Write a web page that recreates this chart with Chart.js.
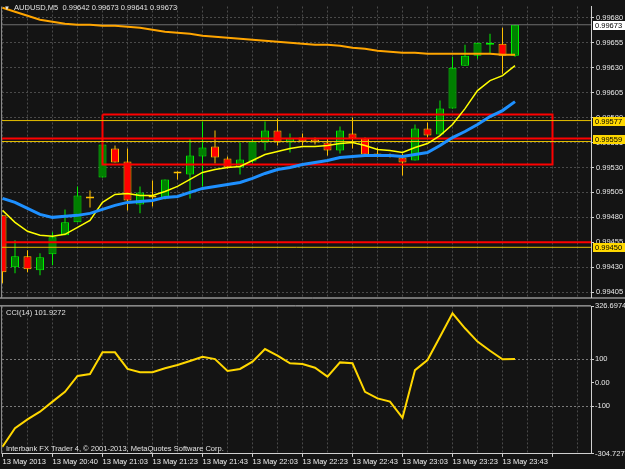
<!DOCTYPE html>
<html>
<head>
<meta charset="utf-8">
<script src="https://cdn.jsdelivr.net/npm/chart.js@4.4.0/dist/chart.umd.min.js"></script>
<style>
    html, body { margin: 0; padding: 0; background: #141414; }
    #wrap { position: relative; width: 625px; height: 469px; overflow: hidden; background: #141414;
            font-family: 'Liberation Sans', Arial, sans-serif; }
    #wrap canvas { position: absolute; left: 0; }
    .txt { position: absolute; color: #e2e2e2; font-size: 7.5px; line-height: 9px; white-space: nowrap; z-index: 5; }
</style>
</head>
<body>
<div id="wrap">
    <canvas id="priceChart" width="625" height="304" style="top:0"></canvas>
    <canvas id="cciChart" width="625" height="177" style="top:292px"></canvas>
    <div class="txt" style="left:4px;top:3px"><span style="font-size:6px">&#9660;</span>&nbsp;&nbsp;AUDUSD,M5&nbsp;&nbsp;0.99642 0.99673 0.99641 0.99673</div>
    <div class="txt" style="left:6px;top:308px">CCI(14) 101.9272</div>
    <div class="txt" style="left:6px;top:444px">Interbank FX Trader 4, © 2001-2013, MetaQuotes Software Corp.</div>
</div>

<script>
// ──────────────────────────────────────
// Data (AUDUSD M5, 13 May 2013)
// ──────────────────────────────────────

const timeLabels = ['13 May 2013', '13 May 20:40', '13 May 21:03', '13 May 21:23', '13 May 21:43',
    '13 May 22:03', '13 May 22:23', '13 May 22:43', '13 May 23:03', '13 May 23:23', '13 May 23:43'];

const priceTicks = [0.99680, 0.99655, 0.99630, 0.99605, 0.99580, 0.99555,
    0.99530, 0.99505, 0.99480, 0.99455, 0.99430, 0.99405];

const opens = [0.99482, 0.99430, 0.99441, 0.99427, 0.99443, 0.99462, 0.99475, 0.99501, 0.99520, 0.99549,
    0.99536, 0.99493, 0.99502, 0.99499, 0.99525, 0.99523, 0.99541, 0.99551, 0.99539, 0.99530,
    0.99536, 0.99555, 0.99567, 0.99555, 0.99560, 0.99558, 0.99555, 0.99547, 0.99564, 0.99559,
    0.99543, 0.99542, 0.99540, 0.99537, 0.99569, 0.99563, 0.99589, 0.99632, 0.99642, 0.99653,
    0.99654, 0.99642];
const highs = [0.99482, 0.99457, 0.99447, 0.99444, 0.99465, 0.99488, 0.99511, 0.99507, 0.99553, 0.99552,
    0.99549, 0.99511, 0.99517, 0.99518, 0.99526, 0.99559, 0.99576, 0.99567, 0.99541, 0.99555,
    0.99559, 0.99576, 0.99579, 0.99564, 0.99564, 0.99560, 0.99559, 0.99571, 0.99580, 0.99560,
    0.99550, 0.99544, 0.99544, 0.99573, 0.99575, 0.99597, 0.99641, 0.99653, 0.99655, 0.99664,
    0.99670, 0.99673];
const lows = [0.99414, 0.99424, 0.99425, 0.99422, 0.99432, 0.99462, 0.99475, 0.99490, 0.99520, 0.99535,
    0.99487, 0.99484, 0.99491, 0.99498, 0.99518, 0.99499, 0.99511, 0.99534, 0.99529, 0.99523,
    0.99534, 0.99547, 0.99552, 0.99545, 0.99552, 0.99553, 0.99542, 0.99544, 0.99549, 0.99542,
    0.99540, 0.99540, 0.99522, 0.99537, 0.99560, 0.99562, 0.99589, 0.99632, 0.99639, 0.99644,
    0.99624, 0.99641];
const closes = [0.99425, 0.99441, 0.99428, 0.99440, 0.99460, 0.99475, 0.99502, 0.99499, 0.99553, 0.99535,
    0.99497, 0.99505, 0.99500, 0.99518, 0.99524, 0.99542, 0.99550, 0.99540, 0.99530, 0.99538,
    0.99556, 0.99567, 0.99555, 0.99559, 0.99556, 0.99555, 0.99547, 0.99567, 0.99559, 0.99543,
    0.99542, 0.99541, 0.99535, 0.99569, 0.99562, 0.99589, 0.99630, 0.99642, 0.99655, 0.99655,
    0.99642, 0.99673];

// moving averages
const maSlow = [0.99690, 0.99686, 0.99682, 0.99678, 0.99676, 0.99674, 0.99673, 0.99673, 0.99672, 0.99672,
    0.99671, 0.99670, 0.99668, 0.99666, 0.99665, 0.99664, 0.99662, 0.99661, 0.99660, 0.99659,
    0.99658, 0.99657, 0.99656, 0.99655, 0.99654, 0.99653, 0.99653, 0.99652, 0.99650, 0.99649,
    0.99647, 0.99646, 0.99645, 0.99645, 0.99644, 0.99644, 0.99644, 0.99644, 0.99644, 0.99644,
    0.99643, 0.99643];
const maFast = [0.99487, 0.99475, 0.99466, 0.99462, 0.99461, 0.99463, 0.99470, 0.99477, 0.99495, 0.99503,
    0.99504, 0.99502, 0.99502, 0.99506, 0.99511, 0.99518, 0.99525, 0.99528, 0.99530, 0.99531,
    0.99537, 0.99543, 0.99546, 0.99549, 0.99551, 0.99551, 0.99552, 0.99554, 0.99555, 0.99552,
    0.99548, 0.99547, 0.99545, 0.99550, 0.99554, 0.99562, 0.99573, 0.99589, 0.99607, 0.99617,
    0.99622, 0.99632];
const maMid = [0.99499, 0.99495, 0.99489, 0.99483, 0.99480, 0.99481, 0.99482, 0.99484, 0.99488, 0.99492,
    0.99495, 0.99496, 0.99497, 0.99500, 0.99501, 0.99505, 0.99509, 0.99511, 0.99513, 0.99515,
    0.99519, 0.99524, 0.99528, 0.99530, 0.99533, 0.99535, 0.99537, 0.99540, 0.99541, 0.99542,
    0.99542, 0.99542, 0.99541, 0.99543, 0.99545, 0.99552, 0.99560, 0.99566, 0.99573, 0.99581,
    0.99587, 0.99596];

const cciValues = [-274, -195, -157, -124, -81, -39, 29, 37, 130, 130,
    59, 45, 45, 62, 76, 93, 111, 101, 50, 59,
    90, 144, 116, 83, 80, 64, 26, 87, 83, -39,
    -67, -81, -150, 54, 97, 197, 297, 233, 176, 137,
    100, 101.9272];
const cciTicks = [326.6974, 100, 0, -100, -304.7275];
const cciTickLabels = ['326.6974', '100', '0.00', '-100', '-304.7275'];

// chart objects
const redLevels = [0.99559, 0.99455];
const goldLevels = [0.99577, 0.99556, 0.99450];
const bidPrice = 0.99673;
const boxBars = [8, 44];
const boxPrices = [0.99583, 0.99533];
const tagPrices = [0.99673, 0.99577, 0.99559, 0.99450];

// ──────────────────────────────────────
// Look
// ──────────────────────────────────────

const X_MIN = -0.04, X_MAX = 47.08;
const GRID = '#4a4a4a';
const AXIS = '#d0d0d0';
const UP_FILL = '#008000', UP_EDGE = '#00f000';
const DN_FILL = '#ff0000', DN_EDGE = '#ffc000';
const FONT = { family: "'Liberation Sans', Arial, sans-serif", size: 7.5 };

Chart.defaults.font = FONT;
Chart.defaults.color = '#e8e8e8';

const idx = opens.map((_, i) => i);
const isUp = idx.map(i => closes[i] >= opens[i]);
const gridSteps = Array.from({ length: 24 }, (_, k) => k * 2);

function levelLine(price, color, width) {
    return {
        type: 'line', data: [{ x: X_MIN, y: price }, { x: X_MAX, y: price }],
        borderColor: color, borderWidth: width, pointRadius: 0, order: 1,
    };
}

const framePlugin = {
    id: 'frame',
    afterDraw(chart) {
        const { ctx, chartArea } = chart;
        ctx.save();
        ctx.strokeStyle = '#8a8a8a';
        ctx.lineWidth = 1;
        ctx.beginPath();
        ctx.moveTo(1.5, chartArea.top);
        ctx.lineTo(1.5, chartArea.bottom);
        ctx.stroke();
        ctx.strokeStyle = AXIS;
        ctx.beginPath();
        if (chart.canvas.id === 'priceChart') {
            ctx.moveTo(0, chartArea.bottom + 0.5);
            ctx.lineTo(chart.width, chartArea.bottom + 0.5);
        } else {
            ctx.moveTo(0, chartArea.top - 0.5);
            ctx.lineTo(chartArea.right, chartArea.top - 0.5);
        }
        ctx.stroke();
        ctx.restore();
    }
};

const priceTagPlugin = {
    id: 'priceTags',
    afterDraw(chart) {
        const { ctx } = chart;
        const y = chart.scales.y;
        ctx.save();
        ctx.font = "7.5px 'Liberation Sans', Arial, sans-serif";
        ctx.textBaseline = 'middle';
        tagPrices.forEach((p, k) => {
            const py = Math.round(y.getPixelForValue(p));
            ctx.fillStyle = k === 0 ? '#ffffff' : '#ffd800';
            ctx.fillRect(y.left + 2, py - 4, 32, 9);
            ctx.fillStyle = '#000000';
            ctx.fillText(p.toFixed(5), y.left + 4, py + 0.5);
        });
        ctx.restore();
    }
};

// ──────────────────────────────────────
// Price chart
// ──────────────────────────────────────

new Chart(document.getElementById('priceChart'), {
    type: 'bar',
    data: {
        datasets: [
            {
                type: 'line', label: 'MA slow', data: idx.map(i => ({ x: i, y: maSlow[i] })),
                borderColor: '#ffa500', borderWidth: 2, pointRadius: 0, order: 0,
            },
            {
                type: 'line', label: 'MA mid', data: idx.map(i => ({ x: i, y: maMid[i] })),
                borderColor: '#1e90ff', borderWidth: 3, pointRadius: 0, order: 0,
            },
            {
                type: 'line', label: 'MA fast', data: idx.map(i => ({ x: i, y: maFast[i] })),
                borderColor: '#ffff00', borderWidth: 1.5, pointRadius: 0, order: 0,
            },
            levelLine(bidPrice, '#6e6e6e', 1),
            ...goldLevels.map(p => levelLine(p, '#e6c000', 1)),
            ...redLevels.map(p => levelLine(p, '#ff0000', 2)),
            {
                type: 'line', label: 'box',
                data: [
                    { x: boxBars[0], y: boxPrices[0] }, { x: boxBars[1], y: boxPrices[0] },
                    { x: boxBars[1], y: boxPrices[1] }, { x: boxBars[0], y: boxPrices[1] },
                    { x: boxBars[0], y: boxPrices[0] },
                ],
                borderColor: '#ff0000', borderWidth: 2, pointRadius: 0, order: 1,
                borderJoinStyle: 'miter',
            },
            {
                label: 'bodies', data: idx.map(i => ({ x: i, y: [opens[i], closes[i]] })),
                backgroundColor: idx.map(i => isUp[i] ? UP_FILL : DN_FILL),
                borderColor: idx.map(i => isUp[i] ? UP_EDGE : DN_EDGE),
                borderWidth: 1, borderSkipped: false, barThickness: 8, minBarLength: 2,
                grouped: false, inflateAmount: 0, order: 3,
            },
            {
                label: 'wicks', data: idx.map(i => ({ x: i, y: [lows[i], highs[i]] })),
                backgroundColor: idx.map(i => isUp[i] ? UP_EDGE : DN_EDGE),
                borderWidth: 0, barThickness: 1, grouped: false, inflateAmount: 0, order: 4,
            },
        ]
    },
    options: {
        responsive: false,
        animation: false,
        events: [],
        layout: { autoPadding: false, padding: { left: 2, top: 1, right: 0, bottom: 2 } },
        plugins: { legend: { display: false }, tooltip: { enabled: false } },
        scales: {
            x: {
                type: 'linear', min: X_MIN, max: X_MAX, offset: false,
                afterBuildTicks: s => { s.ticks = gridSteps.map(v => ({ value: v })); },
                ticks: { display: false },
                grid: { color: GRID, drawTicks: false, offset: false },
                border: { display: false, dash: [2, 2] },
                afterFit: s => { s.height = 0; },
            },
            y: {
                position: 'right',
                min: 0.993997, max: 0.996913,
                afterBuildTicks: s => { s.ticks = priceTicks.map(v => ({ value: v })); },
                ticks: { callback: v => v.toFixed(5), padding: 2, color: '#e8e8e8' },
                grid: { color: GRID, tickColor: AXIS, tickLength: 3, tickBorderDash: [] },
                border: { display: true, color: AXIS, dash: [2, 2] },
                afterFit: s => { s.width = 34; },
            }
        }
    },
    plugins: [framePlugin, priceTagPlugin]
});

// ──────────────────────────────────────
// CCI(14) chart
// ──────────────────────────────────────

new Chart(document.getElementById('cciChart'), {
    type: 'line',
    data: {
        datasets: [{
            label: 'CCI(14)', data: idx.map(i => ({ x: i, y: cciValues[i] })),
            borderColor: '#ffd700', borderWidth: 2, pointRadius: 0,
        }]
    },
    options: {
        responsive: false,
        animation: false,
        events: [],
        layout: { autoPadding: false, padding: { left: 2, top: 14.4, right: 0, bottom: 0 } },
        plugins: { legend: { display: false }, tooltip: { enabled: false } },
        scales: {
            x: {
                type: 'linear', min: X_MIN, max: X_MAX, offset: false,
                afterBuildTicks: s => { s.ticks = gridSteps.map(v => ({ value: v })); },
                ticks: {
                    autoSkip: false, maxRotation: 0, align: 'start', padding: 1, color: '#ececec',
                    callback: v => (v % 4 === 0 && timeLabels[v / 4]) ? timeLabels[v / 4] : '',
                },
                grid: {
                    color: GRID, tickLength: 3, tickBorderDash: [],
                    tickColor: c => (c.tick && c.tick.value % 4 === 0) ? AXIS : 'transparent',
                },
                border: { display: true, color: AXIS, dash: [2, 2] },
                afterFit: s => { s.height = 15.1; },
            },
            y: {
                position: 'right',
                min: -304.7275, max: 326.6974,
                afterBuildTicks: s => { s.ticks = cciTicks.map(v => ({ value: v })); },
                ticks: { callback: (v, i) => cciTickLabels[i], padding: 1, color: '#e8e8e8' },
                grid: {
                    color: c => (c.tick && Math.abs(c.tick.value) === 100) ? '#7a7a7a' : 'transparent',
                    tickColor: AXIS, tickLength: 3, tickBorderDash: [],
                },
                border: { display: true, color: AXIS, dash: [2, 2] },
                afterFit: s => { s.width = 34; },
            }
        }
    },
    plugins: [framePlugin]
});
</script>
</body>
</html>
